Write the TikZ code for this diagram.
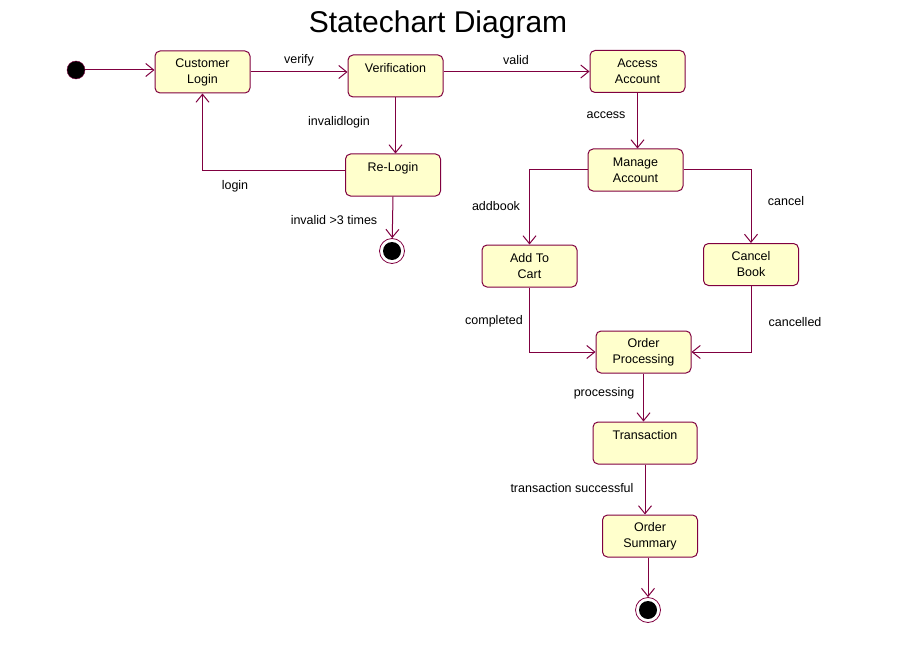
\documentclass[tikz,border=0pt]{standalone}
\usepackage{xcolor}
\usepackage{fontspec}
\setmainfont{Liberation Sans}
\usepackage{tikz}
\usetikzlibrary{arrows.meta, positioning}

\definecolor{umlline}{RGB}{128,0,64}
\definecolor{umlfill}{RGB}{255,255,204}

\begin{document}
\begin{tikzpicture}[
    x=1pt, y=-1pt,
    block/.style={
        rectangle,
        rounded corners=5pt,
        draw=umlline,
        line width=1pt,
        align=center,
        inner sep=0pt,
        minimum width=95pt,
        minimum height=42pt,
        fill=umlfill,
        font=\fontsize{12.5}{16}\selectfont
    },
    startstate/.style={circle, draw=umlline, fill=black, minimum size=18pt, inner sep=0pt},
    endstate/.style={circle, draw=umlline, fill=white, line width=0.8pt, minimum size=25pt, inner sep=0pt,
        path picture={\fill[black] (path picture bounding box.center) circle (9pt);}},
    lbl/.style={font=\fontsize{12.5}{14}\selectfont, inner sep=0pt},
    arrow/.style={-{Straight Barb[length=8pt,width=13pt]}, draw=umlline, line width=1pt}
]
\useasboundingbox (0,0) rectangle (912,655);

\node[font=\fontsize{30}{34}\selectfont] (title) at (438,25) {Statechart Diagram};

\node[startstate] (init) at (76,70) {};
\node[block] (login) at (202.5,72) {Customer\\Login};
\node[block] (verif) at (395.5,76) {Verification\\\mbox{}};
\node[block] (access) at (637.5,71.5) {Access\\Account};
\node[block] (relogin) at (393,175) {Re-Login\\\mbox{}};
\node[endstate] (end1) at (392,251) {};

\node[block] (manage) at (635.5,170) {Manage\\Account};
\node[block] (cart) at (529.5,266) {Add To\\Cart};
\node[block] (cancelbk) at (751,264.5) {Cancel\\Book};
\node[block] (order) at (643.5,352) {Order\\Processing};
\node[block, minimum width=104pt] (transact) at (645,443) {Transaction\\\mbox{}};
\node[block] (summary) at (650,536) {Order\\Summary};
\node[endstate] (end2) at (648,610) {};

% labels
\node[lbl] (lverify) at (299,60) {verify};
\node[lbl] (lvalid) at (516,60) {valid};
\node[lbl] (linvalid) at (339,122) {invalidlogin};
\node[lbl] (llogin) at (235,186) {login};
\node[lbl] (lthree) at (334,220) {invalid >3 times};
\node[lbl] (laccess) at (606,115) {access};
\node[lbl] (laddbook) at (496,206) {addbook};
\node[lbl] (lcancel) at (786,201) {cancel};
\node[lbl] (lcompleted) at (494,321) {completed};
\node[lbl] (lcancelled) at (795,322) {cancelled};
\node[lbl] (lprocessing) at (604,393) {processing};
\node[lbl] (lsuccess) at (572,488) {transaction successful};

\draw[arrow] (init) -- (init -| login.west);
\draw[arrow] (login.east) -- (login.east -| verif.west);
\draw[arrow] (verif.east |- access) -- (access.west);
\draw[arrow] (verif.south) -- (verif.south |- relogin.north);
\draw[arrow] ([yshift=4pt]relogin.west) -| (login.south);
\draw[arrow] (relogin.south) -- (end1);

\draw[arrow] (access.south) -- (access.south |- manage.north);
\draw[arrow] (manage.west) -| (cart.north);
\draw[arrow] (manage.east) -| (cancelbk.north);
\draw[arrow] (cart.south) |- (order.west);
\draw[arrow] (cancelbk.south) |- (order.east);
\draw[arrow] (order.south) -- (order.south |- transact.north);
\draw[arrow] (transact.south) -- (transact.south |- summary.north);
\draw[arrow] (summary.south -| end2) -- (end2);

\end{tikzpicture}
\end{document}
